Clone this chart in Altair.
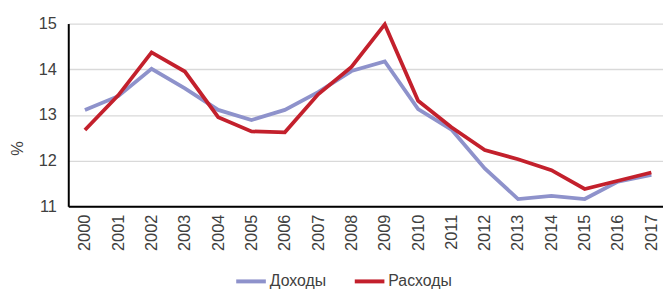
import altair as alt
import pandas as pd

years = list(range(2000, 2018))
income = [13.11, 13.41, 14.01, 13.58, 13.11, 12.89, 13.11, 13.50, 13.96, 14.17,
          13.13, 12.68, 11.83, 11.16, 11.23, 11.16, 11.54, 11.69]
expense = [12.67, 13.43, 14.37, 13.95, 12.95, 12.64, 12.62, 13.45, 14.05, 14.98,
           13.31, 12.73, 12.23, 12.03, 11.79, 11.38, 11.56, 11.74]
series_names = ["Доходы", "Расходы"]
colors = ["#8E92CB", "#C3202C"]
y_ticks = [11, 12, 13, 14, 15]

rows = []
for name, vals in zip(series_names, [income, expense]):
    for yr, v in zip(years, vals):
        rows.append({"year": yr, "value": v, "series": name})
df = pd.DataFrame(rows)

FONT = "Liberation Sans"

chart = alt.Chart(df).mark_line(strokeWidth=3.8, strokeJoin="miter", strokeCap="butt").encode(
    x=alt.X("year:Q",
            scale=alt.Scale(domain=[1999.5, 2017.35], nice=False, zero=False),
            axis=alt.Axis(values=years, format="d", labelAngle=270, title=None,
                          grid=False, ticks=False, labelPadding=8,
                          domainColor="#000000", domainWidth=2,
                          labelFontSize=16.5, labelColor="#404040", labelFont=FONT,
                          labelFlush=False, labelOverlap=False)),
    y=alt.Y("value:Q",
            scale=alt.Scale(domain=[11, 15], nice=False, zero=False),
            axis=alt.Axis(values=y_ticks, title="%", ticks=False, labelPadding=12,
                          grid=True, gridColor="#D9D9D9", gridWidth=1.3,
                          domainColor="#000000", domainWidth=2,
                          labelFontSize=16.5, labelColor="#404040", labelFont=FONT,
                          labelFlush=False,
                          titleFont=FONT, titleFontSize=16.5, titleFontWeight="normal",
                          titleColor="#404040", titleX=-51, titleY=126,
                          titleAngle=270, titleAlign="center", titleBaseline="middle")),
    color=alt.Color("series:N",
                    scale=alt.Scale(domain=series_names, range=colors),
                    legend=alt.Legend(title=None, orient="none", legendX=168, legendY=244,
                                      direction="horizontal", symbolType="stroke",
                                      symbolSize=900, symbolStrokeWidth=4,
                                      labelFontSize=16, labelFont=FONT, labelColor="#404040",
                                      labelOffset=2, columnPadding=21)),
    detail="series:N",
).properties(
    width=602, height=185,
    autosize=alt.AutoSizeParams(type="none"),
    padding={"left": 61, "top": 14, "right": 0, "bottom": 86},
).configure_view(stroke=None)

chart.save("out.html", embed_options={"renderer": "svg", "actions": False})
